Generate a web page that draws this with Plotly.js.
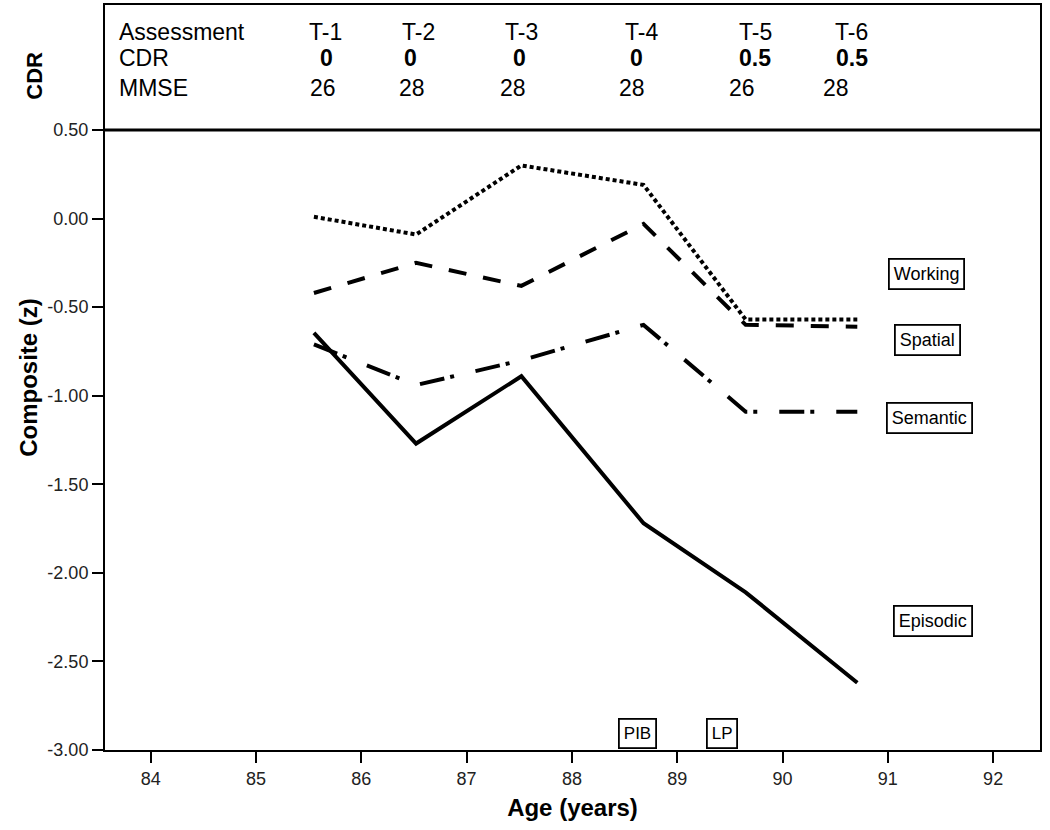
<!DOCTYPE html>
<html>
<head>
<meta charset="utf-8">
<script src="https://cdn.plot.ly/plotly-3.0.1.min.js"></script>
<style>html,body{margin:0;padding:0;background:#fff;}#chart{width:1050px;height:830px;}</style>
</head>
<body>
<div id="chart"></div>
<script>
// ---- data ----
const ages = [85.55, 86.52, 87.52, 88.68, 89.65, 90.71];
const working = [0.01, -0.09, 0.30, 0.19, -0.57, -0.57];
const spatial = [-0.42, -0.25, -0.38, -0.03, -0.60, -0.61];
const semantic = [-0.71, -0.94, -0.80, -0.60, -1.09, -1.09];
const episodic = [-0.645, -1.27, -0.89, -1.72, -2.11, -2.62];

const assessments = ['T-1', 'T-2', 'T-3', 'T-4', 'T-5', 'T-6'];
const cdrScores = ['0', '0', '0', '0', '0.5', '0.5'];
const mmseScores = ['26', '28', '28', '28', '26', '28'];

const yTicks = [0.5, 0, -0.5, -1, -1.5, -2, -2.5, -3];
const xTicks = [84, 85, 86, 87, 88, 89, 90, 91, 92];

const seriesNames = ['Working', 'Spatial', 'Semantic', 'Episodic'];

// ---- layout constants (positions, not data) ----
const headX = [85.656, 86.539, 87.517, 88.657, 89.740, 90.651];
const cdrX = [85.665, 86.463, 87.498, 88.609, 89.740, 90.661];
const mmseX = [85.636, 86.481, 87.440, 88.570, 89.615, 90.508];
const rowY = {head: 1.053, cdr: 0.906, mmse: 0.737};
const labelPos = {
  Working: [91.363, -0.313],
  Spatial: [91.372, -0.685],
  Semantic: [91.40, -1.126],
  Episodic: [91.43, -2.272]
};

const FONT = '"Liberation Sans", Arial, sans-serif';
const lineW = 4;

const traces = [
  {x: ages, y: spatial, name: 'Spatial', mode: 'lines',
   line: {color: '#000', width: lineW, dash: '18px,17px'}},
  {x: ages, y: working, name: 'Working', mode: 'lines',
   line: {color: '#000', width: lineW, dash: '4px,3px'}},
  {x: ages, y: semantic, name: 'Semantic', mode: 'lines',
   line: {color: '#000', width: lineW, dash: '25px,6px,4px,22px'}},
  {x: ages, y: episodic, name: 'Episodic', mode: 'lines',
   line: {color: '#000', width: lineW}}
];

const annotations = [];
// table header labels
[['Assessment', rowY.head], ['CDR', rowY.cdr], ['MMSE', rowY.mmse]].forEach(r => {
  annotations.push({xref: 'paper', yref: 'y', x: 0.0128, y: r[1], xanchor: 'left', yanchor: 'middle',
    text: r[0], showarrow: false, font: {family: FONT, size: 23, color: '#000'}});
});
assessments.forEach((t, i) => annotations.push({x: headX[i], y: rowY.head, text: t, showarrow: false,
  xanchor: 'center', yanchor: 'middle', font: {family: FONT, size: 23, color: '#000'}}));
cdrScores.forEach((t, i) => annotations.push({x: cdrX[i], y: rowY.cdr, text: '<b>' + t + '</b>', showarrow: false,
  xanchor: 'center', yanchor: 'middle', font: {family: FONT, size: 23, color: '#000'}}));
mmseScores.forEach((t, i) => annotations.push({x: mmseX[i], y: rowY.mmse, text: t, showarrow: false,
  xanchor: 'center', yanchor: 'middle', font: {family: FONT, size: 23, color: '#000'}}));

// series labels in boxes
seriesNames.forEach(n => annotations.push({x: labelPos[n][0], y: labelPos[n][1], text: n, showarrow: false,
  xanchor: 'center', yanchor: 'middle', bgcolor: '#fff', bordercolor: '#000', borderwidth: 1.8, borderpad: 4,
  font: {family: FONT, size: 18, color: '#000'}}));

// event markers
[['PIB', 88.618], ['LP', 89.425]].forEach(e => annotations.push({x: e[1], y: -2.905, text: e[0], showarrow: false,
  xanchor: 'center', yanchor: 'middle', bgcolor: '#fff', bordercolor: '#000', borderwidth: 1.8, borderpad: 4,
  font: {family: FONT, size: 17, color: '#000'}}));

// CDR side label
annotations.push({xref: 'paper', yref: 'paper', x: -0.0749, y: 0.905, text: '<b>CDR</b>', textangle: -90,
  showarrow: false, xanchor: 'center', yanchor: 'middle', font: {family: FONT, size: 22, color: '#000'}});

const layout = {
  width: 1050, height: 830,
  margin: {l: 105, r: 10, t: 5, b: 80},
  paper_bgcolor: '#fff', plot_bgcolor: '#fff',
  showlegend: false,
  font: {family: FONT, color: '#222'},
  xaxis: {
    range: [83.566, 92.445], tickvals: xTicks, ticktext: xTicks.map(String),
    ticks: 'outside', ticklen: 11, tickwidth: 2, tickcolor: '#000',
    showline: true, linecolor: '#000', linewidth: 2, mirror: true,
    showgrid: false, zeroline: false,
    tickfont: {family: FONT, size: 18, color: '#222'},
    title: {text: '<b>Age (years)</b>', font: {family: FONT, size: 24, color: '#000'}, standoff: 12}
  },
  yaxis: {
    range: [-3, 1.2057], tickvals: yTicks, ticktext: yTicks.map(v => v.toFixed(2)),
    ticks: 'outside', ticklen: 11, tickwidth: 2, tickcolor: '#000',
    showline: true, linecolor: '#000', linewidth: 2, mirror: true,
    showgrid: false, zeroline: false,
    tickfont: {family: FONT, size: 18, color: '#222'},
    title: {text: '<b>Composite (z)</b>', font: {family: FONT, size: 24, color: '#000'}, standoff: 3}
  },
  shapes: [{type: 'line', xref: 'paper', yref: 'y', x0: 0, x1: 1, y0: 0.5, y1: 0.5,
    line: {color: '#000', width: 3}}],
  annotations: annotations
};

Plotly.newPlot('chart', traces, layout, {displayModeBar: false, staticPlot: true});
</script>
</body>
</html>
